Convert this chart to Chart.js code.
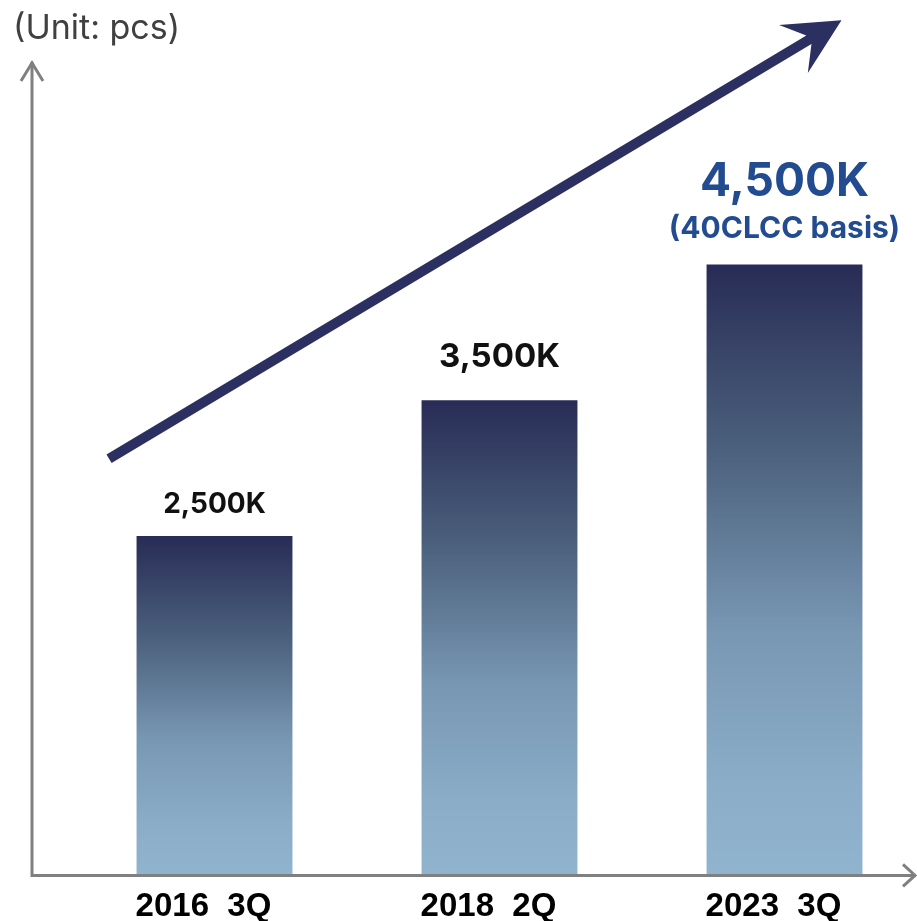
<!DOCTYPE html>
<html>
<head>
<meta charset="utf-8">
<script src="https://cdn.jsdelivr.net/npm/chart.js@4"></script>
<style>
  html, body { margin: 0; padding: 0; background: #ffffff; overflow: hidden; }
  #wrap { width: 917px; height: 921px; position: relative; overflow: hidden; }
  #c { display: block; }
</style>
</head>
<body>
<div id="wrap"><canvas id="c" width="927" height="939"></canvas></div>
<script>
// ---- data ----
const CATEGORIES = ['2016  3Q', '2018  2Q', '2023  3Q'];
const VALUES = [2500, 3500, 4500];
const VALUE_LABELS = ['2,500K', '3,500K', '4,500K'];
const NOTES = ['', '', '(40CLCC basis)'];
const UNIT_LABEL = '(Unit: pcs)';
const Y_MAX = 6000;
// trend arrow endpoints in (category index, value) units
const TREND_FROM = [-0.37, 3070];
const TREND_TO = [2.2, 6300];

// ---- styles ----
const LABEL_SIZES = [28, 33, 46];
const LABEL_COLORS = ['#111111', '#111111', '#234b8f'];
const LABEL_GAPS = [31, 43, 82];
const NOTE_SIZE = 30;
const NOTE_GAP = 36;
const AXIS_COLOR = '#808080';
const ARROW_COLOR = '#2b3060';

function barGradient(ctx) {
  const chart = ctx.chart;
  const y = chart.scales.y;
  if (!chart.chartArea || !y || ctx.dataIndex === undefined) return '#5a7391';
  const top = y.getPixelForValue(VALUES[ctx.dataIndex]);
  const bottom = y.getPixelForValue(0);
  const g = chart.ctx.createLinearGradient(0, top, 0, bottom);
  g.addColorStop(0, '#282c56');
  g.addColorStop(0.3, '#4b607c');
  g.addColorStop(0.6, '#7897b3');
  g.addColorStop(0.85, '#8badc8');
  g.addColorStop(1, '#90b3ce');
  return g;
}

const decor = {
  id: 'decor',
  afterDatasetsDraw(chart) {
    const c = chart.ctx;
    const area = chart.chartArea;
    const xs = chart.scales.x, ys = chart.scales.y;
    const axisX = area.left - 40;
    const axisY = area.bottom;
    const axisEnd = area.right - 12;
    c.save();
    // axes
    c.strokeStyle = AXIS_COLOR;
    c.lineWidth = 3;
    c.lineCap = 'butt';
    c.beginPath();
    c.moveTo(axisX, axisY + 1.5);
    c.lineTo(axisX, area.top + 1);
    c.moveTo(axisX - 1.5, axisY);
    c.lineTo(axisEnd, axisY);
    c.stroke();
    c.lineJoin = 'miter';
    c.beginPath();
    c.moveTo(axisX - 11, area.top + 20);
    c.lineTo(axisX, area.top + 2);
    c.lineTo(axisX + 11, area.top + 20);
    c.moveTo(axisEnd - 12, axisY - 11);
    c.lineTo(axisEnd, axisY);
    c.lineTo(axisEnd - 12, axisY + 11);
    c.stroke();

    // trend arrow
    const step = xs.getPixelForValue(1) - xs.getPixelForValue(0);
    const x0 = xs.getPixelForValue(0) + TREND_FROM[0] * step;
    const y0 = ys.getPixelForValue(TREND_FROM[1]);
    const x1 = xs.getPixelForValue(0) + TREND_TO[0] * step;
    const y1 = ys.getPixelForValue(TREND_TO[1]);
    const dx = x1 - x0, dy = y1 - y0;
    const len = Math.hypot(dx, dy);
    const ux = dx / len, uy = dy / len;
    const nx = -uy, ny = ux;
    const headLen = 56, headHalf = 28, notch = 38, half = 5;
    c.fillStyle = ARROW_COLOR;
    c.beginPath();
    const bx = x1 - ux * notch, by = y1 - uy * notch;
    c.moveTo(x0 + nx * half, y0 + ny * half);
    c.lineTo(bx + nx * half, by + ny * half);
    c.lineTo(x1 - ux * headLen + nx * headHalf, y1 - uy * headLen + ny * headHalf);
    c.lineTo(x1, y1);
    c.lineTo(x1 - ux * headLen - nx * headHalf, y1 - uy * headLen - ny * headHalf);
    c.lineTo(bx - nx * half, by - ny * half);
    c.lineTo(x0 - nx * half, y0 - ny * half);
    c.closePath();
    c.fill();

    // value labels
    const meta = chart.getDatasetMeta(0);
    c.textAlign = 'center';
    c.textBaseline = 'middle';
    meta.data.forEach((bar, i) => {
      c.fillStyle = LABEL_COLORS[i];
      c.font = '700 ' + LABEL_SIZES[i] + 'px Inter, "Liberation Sans", sans-serif';
      c.fillText(VALUE_LABELS[i], bar.x, bar.y - LABEL_GAPS[i]);
      if (NOTES[i]) {
        c.font = '700 ' + NOTE_SIZE + 'px Inter, "Liberation Sans", sans-serif';
        c.fillText(NOTES[i], bar.x, bar.y - NOTE_GAP);
      }
    });

    // unit label
    c.fillStyle = '#404040';
    c.textAlign = 'left';
    c.font = '400 34px Inter, "Liberation Sans", sans-serif';
    c.fillText(UNIT_LABEL, 13, 29);
    c.restore();
  }
};

new Chart(document.getElementById('c'), {
  type: 'bar',
  data: {
    labels: CATEGORIES,
    datasets: [{
      data: VALUES,
      backgroundColor: barGradient,
      borderWidth: 0,
      barPercentage: 0.547,
      categoryPercentage: 1
    }]
  },
  options: {
    responsive: false,
    animation: false,
    layout: { padding: { top: 61, left: 72, right: 0, bottom: 0 } },
    plugins: { legend: { display: false }, tooltip: { enabled: false } },
    scales: {
      x: {
        offset: true,
        grid: { display: false, drawTicks: false, tickLength: 0 },
        border: { display: false },
        ticks: {
          color: '#000000',
          padding: 12,
          labelOffset: -11,
          font: { family: '"Liberation Sans Narrow", "Liberation Sans", sans-serif', size: 33, weight: '700' }
        }
      },
      y: {
        display: false,
        min: 0,
        max: Y_MAX
      }
    }
  },
  plugins: [decor]
});
</script>
</body>
</html>
